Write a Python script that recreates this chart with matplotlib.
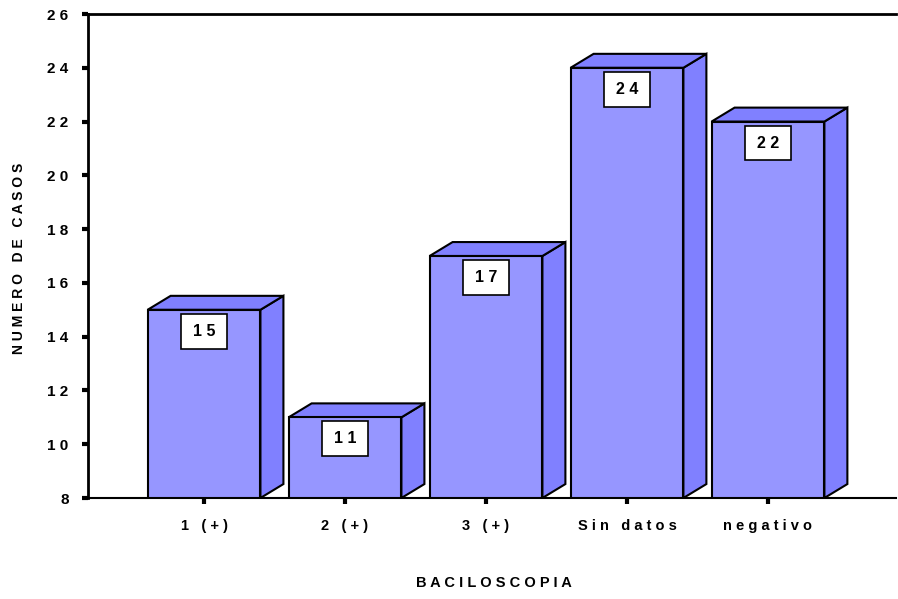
import matplotlib.pyplot as plt
from matplotlib.patches import Polygon, Rectangle

plt.rcParams['font.family'] = ['Liberation Sans', 'DejaVu Sans']

categorias = ['1 (+)', '2 (+)', '3 (+)', 'Sin datos', 'negativo']
casos = [15, 11, 17, 24, 22]
yticks = [8, 10, 12, 14, 16, 18, 20, 22, 24, 26]


def espaciar(texto):
    # separa las letras como en el original
    return ' '.join(texto)


color_frente = (150 / 255., 150 / 255., 255 / 255.)
color_lado = (128 / 255., 128 / 255., 255 / 255.)

fig = plt.figure(figsize=(8.98, 5.99), dpi=100)
ax = fig.add_axes([88 / 898., 101 / 599., 808 / 898., 484 / 599.])

ymin, ymax = 8, 26
ax.set_xlim(-0.823, 4.908)
ax.set_ylim(ymin, ymax)

ancho = 0.8
dx = 23 / 141.   # profundidad en x (unidades de datos)
dy = 14 / 27.    # profundidad en y

for i, v in enumerate(casos):
    x0 = i - ancho / 2
    x1 = i + ancho / 2
    frente = Polygon([(x0, ymin), (x1, ymin), (x1, v), (x0, v)], closed=True,
                     facecolor=color_frente, edgecolor='black', linewidth=1.5, zorder=3)
    lado = Polygon([(x1, ymin), (x1 + dx, ymin + dy), (x1 + dx, v + dy), (x1, v)], closed=True,
                   facecolor=color_lado, edgecolor='black', linewidth=1.5, zorder=3)
    techo = Polygon([(x0, v), (x1, v), (x1 + dx, v + dy), (x0 + dx, v + dy)], closed=True,
                    facecolor=color_lado, edgecolor='black', linewidth=1.5, zorder=3)
    ax.add_patch(lado)
    ax.add_patch(techo)
    ax.add_patch(frente)

    # caja con el valor
    bw, bh = 46 / 141., 35 / 27.
    ax.add_patch(Rectangle((i - bw / 2, v - 0.15 - bh), bw, bh, facecolor='white',
                           edgecolor='black', linewidth=1.2, zorder=4))
    ax.text(i, v - 0.15 - bh / 2, espaciar(str(v)), ha='center', va='center',
            fontsize=11.5, fontweight='bold', zorder=5)

ax.spines['right'].set_visible(False)
ax.spines['left'].set_linewidth(2)
ax.spines['top'].set_linewidth(2)
ax.spines['bottom'].set_linewidth(1.5)

ax.set_yticks(yticks)
ax.set_yticklabels([espaciar(str(t)) for t in yticks], fontsize=11, fontweight='bold')
ax.set_xticks(range(len(categorias)))
ax.set_xticklabels([espaciar(c) for c in categorias], fontsize=10.5, fontweight='bold')
ax.tick_params(axis='both', direction='out', length=4, width=3)
ax.tick_params(axis='y', pad=10)
ax.tick_params(axis='x', pad=11)

fig.text(19 / 898., 1 - 258 / 599., espaciar('NUMERO DE CASOS'), rotation=90,
         ha='center', va='center', fontsize=10, fontweight='bold')
fig.text(494 / 898., 16 / 599., espaciar('BACILOSCOPIA'), ha='center', va='center',
         fontsize=10.5, fontweight='bold')

plt.savefig('out.png', dpi=100)
